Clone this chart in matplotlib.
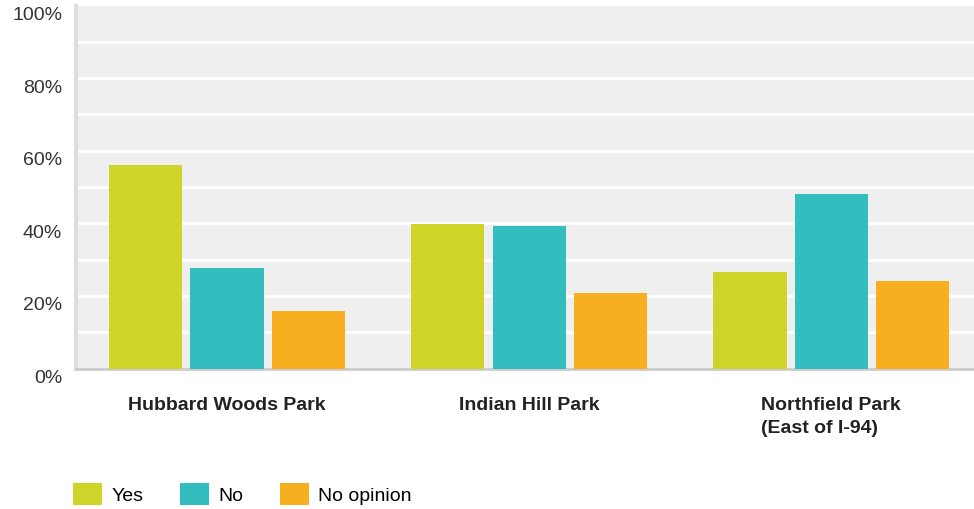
import matplotlib
matplotlib.use("Agg")
import matplotlib.pyplot as plt
import matplotlib.transforms as mtransforms
import numpy as np
from matplotlib.patches import Patch

plt.rcParams['font.family'] = ['Liberation Sans', 'DejaVu Sans']

categories = ["Hubbard Woods Park", "Indian Hill Park", "Northfield Park\n(East of I-94)"]
series_names = ["Yes", "No", "No opinion"]
yes_vals = [56.1, 39.8, 26.6]
no_vals = [27.7, 39.3, 48.1]
noop_vals = [15.8, 20.8, 24.1]
colors = ["#CFD428", "#34BDBF", "#F7AF1F"]
yticks = [0, 20, 40, 60, 80, 100]
ytick_labels = ["0%", "20%", "40%", "60%", "80%", "100%"]

W, H = 974, 510
fig = plt.figure(figsize=(W / 100, H / 100), dpi=100)
left, right, top, bottom = 76, 974, 6.5, 369.5
ax = fig.add_axes([left / W, (H - bottom) / H, (right - left) / W, (bottom - top) / H])
ax.set_facecolor("#EFEFEF")

x = np.arange(len(categories))
width = 0.242
offsets = [-0.269, 0.0, 0.269]
for vals, off, col, name in zip([yes_vals, no_vals, noop_vals], offsets, colors, series_names):
    ax.bar(x + off, vals, width=width, color=col, label=name, zorder=3)

ax.set_xlim(-0.5, 2.4726)
ax.set_ylim(0, 100)
for g in range(10, 100, 10):
    ax.axhline(g, color="white", lw=2, zorder=1)

ax.set_yticks(yticks)
ax.set_yticklabels(ytick_labels, fontsize=14, color="#333333")
ax.set_xticks(x)
ax.set_xticklabels(categories, fontsize=14, fontweight="bold", color="#222222",
                   multialignment="left", va="top", linespacing=1.45)
ax.tick_params(axis="both", length=0)
ax.tick_params(axis="x", pad=20)
ax.tick_params(axis="y", pad=10)
shift = mtransforms.ScaledTranslation(0, -5 / 72, fig.dpi_scale_trans)
for lbl in ax.get_yticklabels():
    lbl.set_transform(lbl.get_transform() + shift)

for s in ["top", "right"]:
    ax.spines[s].set_visible(False)
ax.spines["left"].set_color("#DDDDDD")
ax.spines["left"].set_linewidth(3)
ax.spines["bottom"].set_color("#CCCCCC")
ax.spines["bottom"].set_linewidth(2)

handles = [Patch(facecolor=c, edgecolor="none", label=n) for c, n in zip(colors, series_names)]
fig.legend(handles=handles, loc="center left", bbox_to_anchor=(65 / W, (H - 495) / H),
           ncol=3, frameon=False, fontsize=14, handlelength=1.5, handleheight=1.35,
           handletextpad=0.5, columnspacing=1.85, borderaxespad=0)

fig.savefig("out.png", dpi=100)
